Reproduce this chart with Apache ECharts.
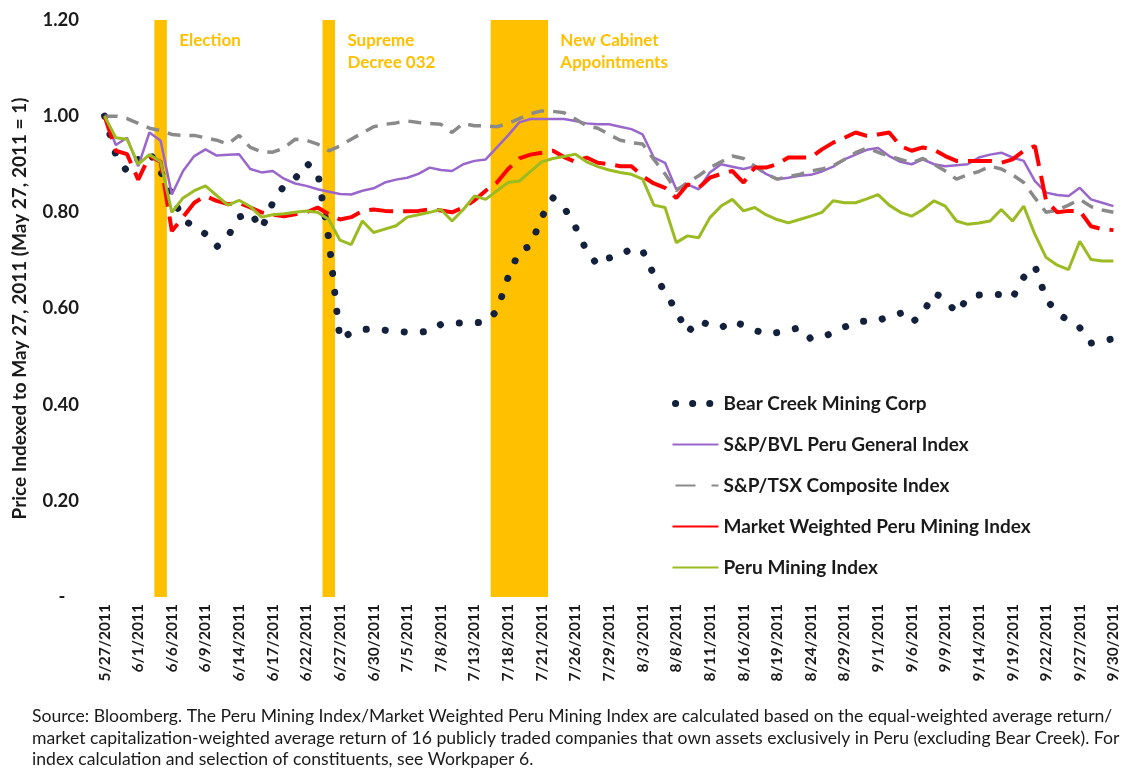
<!DOCTYPE html>
<html>
<head>
<meta charset="utf-8">
<script src="https://cdn.jsdelivr.net/npm/echarts@6/dist/echarts.min.js"></script>
<style>
  html, body { margin: 0; padding: 0; background: #fff; }
  #chart { width: 1124px; height: 772px; }
</style>
</head>
<body>
<div id="chart"></div>
<script>
// trading days, 5/27/2011 .. 9/30/2011
const dates = [
  '5/27/2011', '5/30/2011', '5/31/2011', '6/1/2011', '6/2/2011', '6/3/2011', '6/6/2011', '6/7/2011', '6/8/2011', '6/9/2011',
  '6/10/2011', '6/13/2011', '6/14/2011', '6/15/2011', '6/16/2011', '6/17/2011', '6/20/2011', '6/21/2011', '6/22/2011', '6/23/2011',
  '6/24/2011', '6/27/2011', '6/28/2011', '6/29/2011', '6/30/2011', '7/1/2011', '7/4/2011', '7/5/2011', '7/6/2011', '7/7/2011',
  '7/8/2011', '7/11/2011', '7/12/2011', '7/13/2011', '7/14/2011', '7/15/2011', '7/18/2011', '7/19/2011', '7/20/2011', '7/21/2011',
  '7/22/2011', '7/25/2011', '7/26/2011', '7/27/2011', '7/28/2011', '7/29/2011', '8/1/2011', '8/2/2011', '8/3/2011', '8/4/2011',
  '8/5/2011', '8/8/2011', '8/9/2011', '8/10/2011', '8/11/2011', '8/12/2011', '8/15/2011', '8/16/2011', '8/17/2011', '8/18/2011',
  '8/19/2011', '8/22/2011', '8/23/2011', '8/24/2011', '8/25/2011', '8/26/2011', '8/29/2011', '8/30/2011', '8/31/2011', '9/1/2011',
  '9/2/2011', '9/5/2011', '9/6/2011', '9/7/2011', '9/8/2011', '9/9/2011', '9/12/2011', '9/13/2011', '9/14/2011', '9/15/2011',
  '9/16/2011', '9/19/2011', '9/20/2011', '9/21/2011', '9/22/2011', '9/23/2011', '9/26/2011', '9/27/2011', '9/28/2011', '9/29/2011',
  '9/30/2011'
];

const bearCreek = [
  1.00, 0.92, 0.885, 0.91, 0.925, 0.885, 0.835, 0.785, 0.77, 0.755,
  0.728, 0.75, 0.79, 0.80, 0.765, 0.82, 0.855, 0.87, 0.902, 0.885,
  0.745, 0.535, 0.55, 0.556, 0.558, 0.555, 0.552, 0.551, 0.551, 0.552,
  0.567, 0.57, 0.57, 0.57, 0.572, 0.595, 0.665, 0.72, 0.73, 0.79,
  0.83, 0.81, 0.77, 0.72, 0.69, 0.705, 0.71, 0.725, 0.72, 0.67,
  0.635, 0.595, 0.55, 0.575, 0.565, 0.56, 0.574, 0.565, 0.555, 0.547,
  0.55, 0.555, 0.56, 0.537, 0.54, 0.55, 0.561, 0.572, 0.574, 0.574,
  0.585, 0.59, 0.57, 0.59, 0.632, 0.62, 0.59, 0.622, 0.628, 0.629,
  0.629, 0.622, 0.665, 0.688, 0.62, 0.59, 0.575, 0.56, 0.528, 0.533,
  0.537
];

const bvlGeneral = [
  1.00, 0.94, 0.955, 0.896, 0.966, 0.949, 0.837, 0.886, 0.917, 0.931,
  0.918, 0.92, 0.921, 0.89, 0.883, 0.886, 0.87, 0.86, 0.855, 0.848,
  0.843, 0.838, 0.837, 0.845, 0.85, 0.862, 0.868, 0.872, 0.88, 0.893,
  0.888, 0.886, 0.90, 0.907, 0.91, 0.935, 0.96, 0.987, 0.994, 0.994,
  0.994, 0.994, 0.99, 0.985, 0.983, 0.983, 0.978, 0.973, 0.962, 0.914,
  0.903, 0.848, 0.858, 0.848, 0.883, 0.90, 0.895, 0.89, 0.896, 0.88,
  0.869, 0.872, 0.876, 0.878, 0.885, 0.895, 0.91, 0.92, 0.93, 0.934,
  0.917, 0.905, 0.90, 0.91, 0.90, 0.896, 0.898, 0.90, 0.914, 0.92,
  0.924, 0.914, 0.907, 0.865, 0.841, 0.836, 0.834, 0.851, 0.827, 0.82,
  0.813
];

const tsxComposite = [
  1.00, 1.00, 0.995, 0.985, 0.975, 0.97, 0.962, 0.96, 0.96, 0.955,
  0.95, 0.942, 0.96, 0.935, 0.926, 0.925, 0.934, 0.952, 0.95, 0.942,
  0.928, 0.938, 0.952, 0.965, 0.978, 0.983, 0.986, 0.99, 0.987, 0.985,
  0.983, 0.966, 0.985, 0.98, 0.98, 0.978, 0.985, 0.995, 1.005, 1.011,
  1.01, 1.007, 0.994, 0.98, 0.975, 0.962, 0.95, 0.945, 0.942, 0.91,
  0.88, 0.845, 0.862, 0.876, 0.893, 0.905, 0.917, 0.912, 0.896, 0.88,
  0.869, 0.874, 0.879, 0.886, 0.89, 0.897, 0.91, 0.924, 0.934, 0.925,
  0.917, 0.91, 0.903, 0.912, 0.90, 0.886, 0.869, 0.878, 0.885, 0.896,
  0.89, 0.878, 0.862, 0.83, 0.80, 0.805, 0.815, 0.827, 0.812, 0.805,
  0.80
];

const marketWeighted = [
  1.00, 0.928, 0.921, 0.868, 0.917, 0.905, 0.761, 0.79, 0.82, 0.834,
  0.824, 0.817, 0.82, 0.81, 0.80, 0.795, 0.792, 0.796, 0.80, 0.81,
  0.796, 0.785, 0.79, 0.803, 0.806, 0.803, 0.802, 0.802, 0.803, 0.806,
  0.804, 0.80, 0.81, 0.825, 0.845, 0.862, 0.89, 0.912, 0.92, 0.924,
  0.928, 0.915, 0.905, 0.914, 0.903, 0.90, 0.896, 0.896, 0.875, 0.86,
  0.851, 0.83, 0.858, 0.851, 0.872, 0.88, 0.886, 0.862, 0.893, 0.893,
  0.90, 0.914, 0.914, 0.914, 0.931, 0.945, 0.955, 0.966, 0.959, 0.962,
  0.966, 0.938, 0.928, 0.935, 0.93, 0.917, 0.907, 0.907, 0.907, 0.907,
  0.903, 0.91, 0.928, 0.938, 0.824, 0.80, 0.803, 0.803, 0.771, 0.765,
  0.763
];

const peruMining = [
  1.00, 0.955, 0.952, 0.90, 0.92, 0.905, 0.80, 0.83, 0.845, 0.855,
  0.835, 0.815, 0.825, 0.812, 0.79, 0.795, 0.797, 0.80, 0.803, 0.80,
  0.785, 0.742, 0.733, 0.782, 0.758, 0.765, 0.772, 0.79, 0.795, 0.80,
  0.806, 0.782, 0.806, 0.834, 0.827, 0.845, 0.862, 0.865, 0.885, 0.905,
  0.912, 0.916, 0.921, 0.905, 0.895, 0.888, 0.883, 0.879, 0.869, 0.815,
  0.81, 0.737, 0.751, 0.747, 0.789, 0.813, 0.827, 0.803, 0.81, 0.795,
  0.785, 0.778, 0.785, 0.792, 0.80, 0.824, 0.82, 0.82, 0.828, 0.837,
  0.815, 0.80, 0.792, 0.806, 0.824, 0.813, 0.782, 0.775, 0.778, 0.782,
  0.806, 0.782, 0.813, 0.754, 0.706, 0.69, 0.681, 0.74, 0.702, 0.699,
  0.699
];

// shaded event windows (first day, last day, label lines)
const eventStarts = ['6/3/2011', '6/24/2011', '7/15/2011'];
const eventEnds = ['6/3/2011', '6/24/2011', '7/21/2011'];
const eventLabels = ['Election', 'Supreme\nDecree 032', 'New Cabinet\nAppointments'];
const bandTop = 1.2;

const footnote = 'Source: Bloomberg. The Peru Mining Index/Market Weighted Peru Mining Index are calculated based on the equal-weighted average return/\n' +
  'market capitalization-weighted average return of 16 publicly traded companies that own assets exclusively in Peru (excluding Bear Creek). For\n' +
  'index calculation and selection of constituents, see Workpaper 6.';

const FONT = 'Lato, "Open Sans", sans-serif';

// bar values covering each event window
const bandData = dates.map(() => null);
for (let e = 0; e < eventStarts.length; e++) {
  const a = dates.indexOf(eventStarts[e]);
  const b = dates.indexOf(eventEnds[e]);
  for (let i = a; i <= b; i++) bandData[i] = bandTop;
}

const names = [
  'Bear Creek Mining Corp',
  'S&P/BVL Peru General Index',
  'S&P/TSX Composite Index',
  'Market Weighted Peru Mining Index',
  'Peru Mining Index'
];

function lineSeries(name, data, color, width, type, cap) {
  return {
    type: 'line',
    name: name,
    data: data,
    showSymbol: false,
    symbol: 'none',
    silent: true,
    z: 3,
    lineStyle: { color: color, width: width, type: type, cap: cap || 'butt' },
    itemStyle: { color: color },
    emphasis: { disabled: true }
  };
}

var chart = echarts.init(document.getElementById('chart'));
var option = {
  animation: false,
  backgroundColor: '#fff',
  grid: { left: 99, right: 5, top: 20, bottom: 175, containLabel: false, outerBoundsMode: 'none' },
  legend: {
    data: [
      { name: names[0], lineStyle: { width: 7, type: [0.1, 17], cap: 'round', dashOffset: -3 } },
      { name: names[1] },
      { name: names[2], lineStyle: { type: [20, 16] } },
      { name: names[3], lineStyle: { type: 'solid' } },
      { name: names[4] }
    ],
    orient: 'vertical',
    left: 664,
    top: 389,
    itemWidth: 46,
    itemHeight: 14,
    itemGap: 22,
    selectedMode: false,
    itemStyle: { opacity: 0, borderWidth: 0 },
    textStyle: { fontFamily: FONT, fontWeight: 'bold', fontSize: 19, color: '#1a1a1a' }
  },
  xAxis: {
    type: 'category',
    data: dates,
    boundaryGap: true,
    axisLine: { show: false },
    axisTick: { show: false },
    axisLabel: {
      interval: 2,
      rotate: 90,
      margin: 7,
      fontFamily: FONT,
      fontWeight: 'bold',
      fontSize: 15.5,
      color: '#1a1a1a'
    }
  },
  yAxis: {
    type: 'value',
    min: 0,
    max: 1.2,
    interval: 0.2,
    name: 'Price Indexed to May 27, 2011 (May 27, 2011 = 1)',
    nameLocation: 'middle',
    nameGap: 70,
    nameTextStyle: { fontFamily: FONT, fontWeight: 'bold', fontSize: 19, color: '#1a1a1a' },
    axisLine: { show: false },
    axisTick: { show: false },
    splitLine: { show: false },
    axisLabel: {
      margin: 20,
      fontFamily: FONT,
      fontWeight: 'bold',
      fontSize: 18.5,
      color: '#1a1a1a',
      formatter: v => (v === 0 ? '-   ' : v.toFixed(2))
    }
  },
  series: [
    {
      type: 'bar',
      name: 'events',
      data: bandData,
      barWidth: '112%',
      barCategoryGap: '0%',
      silent: true,
      z: 1,
      itemStyle: { color: '#FFC000' },
      emphasis: { disabled: true }
    },
    lineSeries(names[0], bearCreek, '#14213D', 7, [0.1, 19], 'round'),
    lineSeries(names[1], bvlGeneral, '#9966CC', 2.5, 'solid'),
    lineSeries(names[2], tsxComposite, '#8A8A8A', 3.5, [13, 9]),
    lineSeries(names[3], marketWeighted, '#FF0000', 4, [24, 10]),
    lineSeries(names[4], peruMining, '#9BBB23', 3, 'solid')
  ]
};
chart.setOption(option);

// event captions just right of each shaded window, plus the source note
const half = (chart.convertToPixel({ xAxisIndex: 0 }, dates[1]) - chart.convertToPixel({ xAxisIndex: 0 }, dates[0])) / 2;
const graphics = eventEnds.map((d, k) => ({
  type: 'text',
  left: chart.convertToPixel({ xAxisIndex: 0 }, d) + half + 13,
  top: 30,
  silent: true,
  style: {
    text: eventLabels[k],
    fill: '#FFC000',
    font: 'bold 17px ' + FONT,
    lineHeight: 22
  }
}));
graphics.push({
  type: 'text',
  left: 32,
  top: 706,
  silent: true,
  style: {
    text: footnote,
    fill: '#1a1a1a',
    font: '17.6px ' + FONT,
    lineHeight: 21.5
  }
});
chart.setOption({ graphic: graphics });
</script>
</body>
</html>
